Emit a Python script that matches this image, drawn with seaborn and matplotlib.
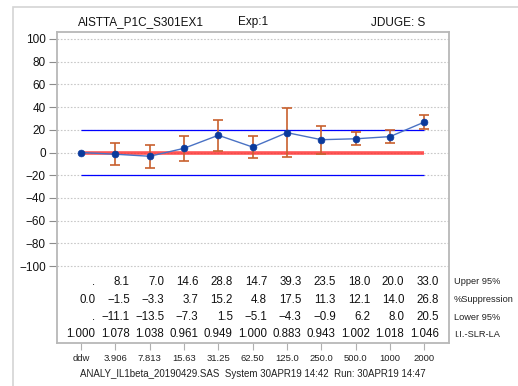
import numpy as np
import pandas as pd
import matplotlib
matplotlib.use("Agg")
import matplotlib.pyplot as plt
from matplotlib.patches import Rectangle
import seaborn as sns

# Dose labels (x categories)
doses = ["ddw", "3.906", "7.813", "15.63", "31.25", "62.50",
         "125.0", "250.0", "500.0", "1000", "2000"]
# % suppression and 95% confidence limits
suppression = [0.0, -1.5, -3.3, 3.7, 15.2, 4.8, 17.5, 11.3, 12.1, 14.0, 26.8]
upper95 = [np.nan, 8.1, 7.0, 14.6, 28.8, 14.7, 39.3, 23.5, 18.0, 20.0, 33.0]
lower95 = [np.nan, -11.1, -13.5, -7.3, 1.5, -5.1, -4.3, -0.9, 6.2, 8.0, 20.5]
# Stimulation index row
ii_slr_la = [1.000, 1.078, 1.038, 0.961, 0.949, 1.000, 0.883, 0.943, 1.002, 1.018, 1.046]
# Reference band limits
band_limit = 20

sns.set_theme(style="white")
plt.rcParams["font.family"] = ["Liberation Sans", "DejaVu Sans"]
plt.rcParams["axes.unicode_minus"] = True

W, H = 518, 386
fig = plt.figure(figsize=(W / 100, H / 100), dpi=100)
fig.patch.set_facecolor("white")

# light outer frame
fig.patches.append(Rectangle((13 / W, -0.05), 1.2, 1 - 7 / H + 0.05,
                             transform=fig.transFigure, fill=False,
                             edgecolor="#d4d4d4", linewidth=1.2))

ax = fig.add_axes([57 / W, 1 - 343 / H, (449 - 57) / W, (343 - 32.3) / H])

df = pd.DataFrame({
    "pos": np.arange(len(doses)),
    "dose": doses,
    "pct": suppression,
    "upper": upper95,
    "lower": lower95,
})


def minus(s):
    return s.replace("-", "\u2212")


# dotted grid at the y ticks
yticks = np.arange(-100, 101, 20)
for y in yticks:
    ax.axhline(y, color="#c8c8c8", linestyle=(0, (1.5, 1.5)), linewidth=0.8, zorder=0)

x0, x1 = df["pos"].iloc[0], df["pos"].iloc[-1]
ax.hlines(0, x0, x1, color="#ff2a2a", linewidth=2.6, alpha=0.8, zorder=1)
ax.hlines([band_limit, -band_limit], x0, x1, color="#0000ff", linewidth=0.9, zorder=1)

eb = df.dropna()
ax.errorbar(eb["pos"], eb["pct"],
            yerr=[eb["pct"] - eb["lower"], eb["upper"] - eb["pct"]],
            fmt="none", ecolor="#c8602e", elinewidth=1.2, capsize=3.5,
            capthick=1.2, zorder=2)

sns.lineplot(data=df, x="pos", y="pct", ax=ax, color="#4a72c4",
             linewidth=1.0, sort=False, zorder=3, legend=False)
sns.scatterplot(data=df, x="pos", y="pct", ax=ax, color="#0b3a9c",
                s=24, edgecolor="#0b3a9c", linewidth=0.5, zorder=4, legend=False)

ax.set_xlim(-0.7, 10.72)
ax.set_ylim(-167.8, 105.9)
ax.set_yticks(yticks)
ax.set_yticklabels([minus(str(v)) for v in yticks])
ax.set_xticks(df["pos"])
ax.set_xticklabels(doses)
ax.set_xlabel("")
ax.set_ylabel("")
ax.tick_params(axis="y", which="both", left=True, length=6, width=0.8,
               color="#8c8c8c", labelsize=8.5, pad=2, labelcolor="#111111")
ax.tick_params(axis="x", which="both", bottom=True, length=5, width=0.8,
               color="#b0b0b0", labelsize=6.8, pad=3, labelcolor="#222222")
for side, sp in ax.spines.items():
    sp.set_color("#b8b8b8")
    sp.set_linewidth(1.3)
    sp.set_visible(True)


def fmt(v, nd):
    if np.isnan(v):
        return "."
    return minus(f"{v:.{nd}f}")


# table rows inside the plot area
rows = [
    (-114, upper95, 1, "Upper 95%"),
    (-129.5, suppression, 1, "%Suppression"),
    (-145, lower95, 1, "Lower 95%"),
    (-160.3, ii_slr_la, 3, "I.I.-SLR-LA"),
]
for y, vals, nd, label in rows:
    for i, v in enumerate(vals):
        ax.text(i + 0.42, y, fmt(v, nd), ha="right", va="center",
                fontsize=8.3, color="#111111")
    ax.text(1.012, y, label, transform=ax.get_yaxis_transform(),
            ha="left", va="center", fontsize=6.7, color="#222222")

# header and footer
ty = 1 - 22.5 / H
fig.text(141 / W, ty, "AISTTA_P1C_S301EX1", ha="center", va="center",
         fontsize=8.5, color="#111111")
fig.text(253 / W, ty, "Exp:1", ha="center", va="center", fontsize=8.5, color="#111111")
fig.text(398 / W, ty, "JDUGE: S", ha="center", va="center", fontsize=8.5, color="#111111")
fig.text(253 / W, 1 - 374 / H,
         "ANALY_IL1beta_20190429.SAS  System 30APR19 14:42  Run: 30APR19 14:47",
         ha="center", va="center", fontsize=7.0, color="#222222")

fig.savefig("out.png", dpi=100)
